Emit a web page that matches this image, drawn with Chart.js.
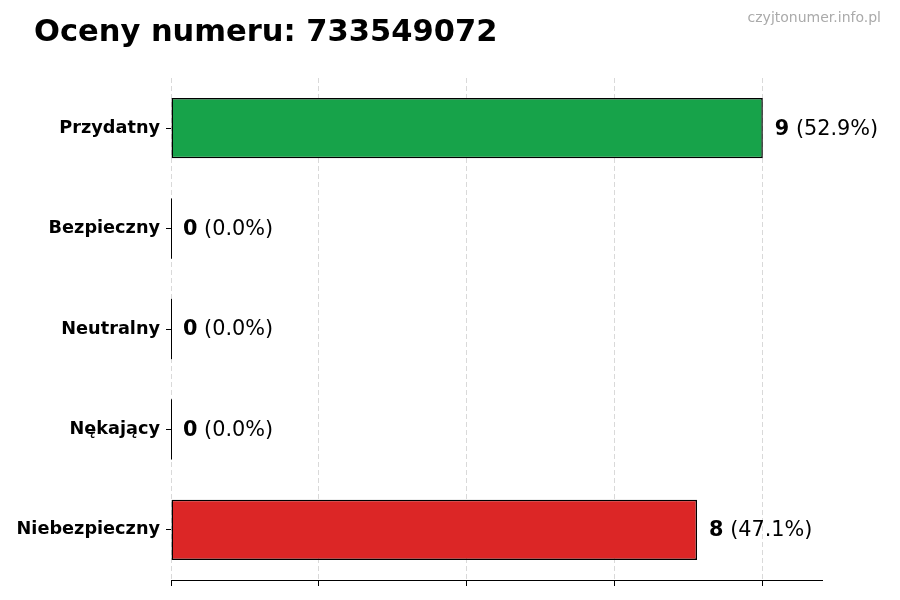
<!DOCTYPE html>
<html>
<head>
<meta charset="utf-8">
<script src="https://cdn.jsdelivr.net/npm/chart.js@4.4.1/dist/chart.umd.min.js"></script>
<style>
  body { margin: 0; background: #fff; }
  #wrap { width: 900px; height: 600px; }
</style>
</head>
<body>
<div id="wrap"><canvas id="ratings"></canvas></div>
<script>
const categories = ['Przydatny', 'Bezpieczny', 'Neutralny', 'Nękający', 'Niebezpieczny'];
const counts = [9, 0, 0, 0, 8];
const barColors = ['#17a34a', '#3b82f6', '#9ca3af', '#f97316', '#dc2626'];
const xTicks = [0, 2.25, 4.5, 6.75, 9];
const xMax = 9.9;
const title = 'Oceny numeru: 733549072';
const watermark = 'czyjtonumer.info.pl';

const total = counts.reduce((a, b) => a + b, 0);
const FONT = '"DejaVu Sans", sans-serif';

const decorations = {
  id: 'decorations',
  afterDatasetsDraw(chart) {
    const ctx = chart.ctx;
    const meta = chart.getDatasetMeta(0);
    ctx.save();
    meta.data.forEach((bar, i) => {
      const half = bar.height / 2;
      // zero bars still show their edge
      if (counts[i] === 0) {
        ctx.strokeStyle = '#000';
        ctx.lineWidth = 1;
        ctx.beginPath();
        ctx.moveTo(bar.x + 0.5, bar.y - half);
        ctx.lineTo(bar.x + 0.5, bar.y + half);
        ctx.stroke();
      }
      const pct = total ? (counts[i] / total * 100).toFixed(1) : '0.0';
      let x = bar.x + 12;
      const y = bar.y + 1;
      ctx.textBaseline = 'middle';
      ctx.fillStyle = '#000';
      ctx.font = 'bold 20.8px ' + FONT;
      const num = String(counts[i]);
      ctx.fillText(num, x, y);
      x += ctx.measureText(num).width;
      ctx.font = '20.8px ' + FONT;
      ctx.fillText(' (' + pct + '%)', x, y);
    });
    ctx.restore();
  },
  afterDraw(chart) {
    const ctx = chart.ctx;
    ctx.save();
    ctx.fillStyle = '#000';
    ctx.font = 'bold 30.5px ' + FONT;
    ctx.textBaseline = 'alphabetic';
    ctx.fillText(title, 34, 41);
    ctx.fillStyle = '#aaaaaa';
    ctx.font = '14px ' + FONT;
    ctx.textAlign = 'right';
    ctx.fillText(watermark, 881, 22);
    ctx.restore();
  }
};

new Chart(document.getElementById('ratings').getContext('2d'), {
  type: 'bar',
  data: {
    labels: categories,
    datasets: [{
      data: counts,
      backgroundColor: barColors,
      borderColor: '#000',
      borderWidth: 1.5,
      borderSkipped: false,
      barPercentage: 0.6,
      categoryPercentage: 1.0
    }]
  },
  options: {
    indexAxis: 'y',
    responsive: true,
    maintainAspectRatio: false,
    animation: false,
    devicePixelRatio: 1,
    layout: { padding: { top: 78, right: 78, left: 0, bottom: 0 } },
    plugins: { legend: { display: false }, tooltip: { enabled: false }, title: { display: false } },
    scales: {
      x: {
        min: 0,
        max: xMax,
        afterBuildTicks(scale) { scale.ticks = xTicks.map(v => ({ value: v })); },
        afterFit(scale) { scale.height = 20; },
        ticks: { display: false },
        grid: { color: '#d9d9d9', tickColor: '#000', tickLength: 6, lineWidth: 1 },
        border: { display: true, color: '#000', width: 1, dash: [5, 3] }
      },
      y: {
        afterFit(scale) { scale.width = 171; },
        ticks: { color: '#000', font: { family: FONT, size: 17.7, weight: 'bold' }, padding: 6 },
        grid: { offset: false, drawOnChartArea: false, tickColor: '#000', tickLength: 5 },
        border: { display: false }
      }
    }
  },
  plugins: [decorations]
});
</script>
</body>
</html>
